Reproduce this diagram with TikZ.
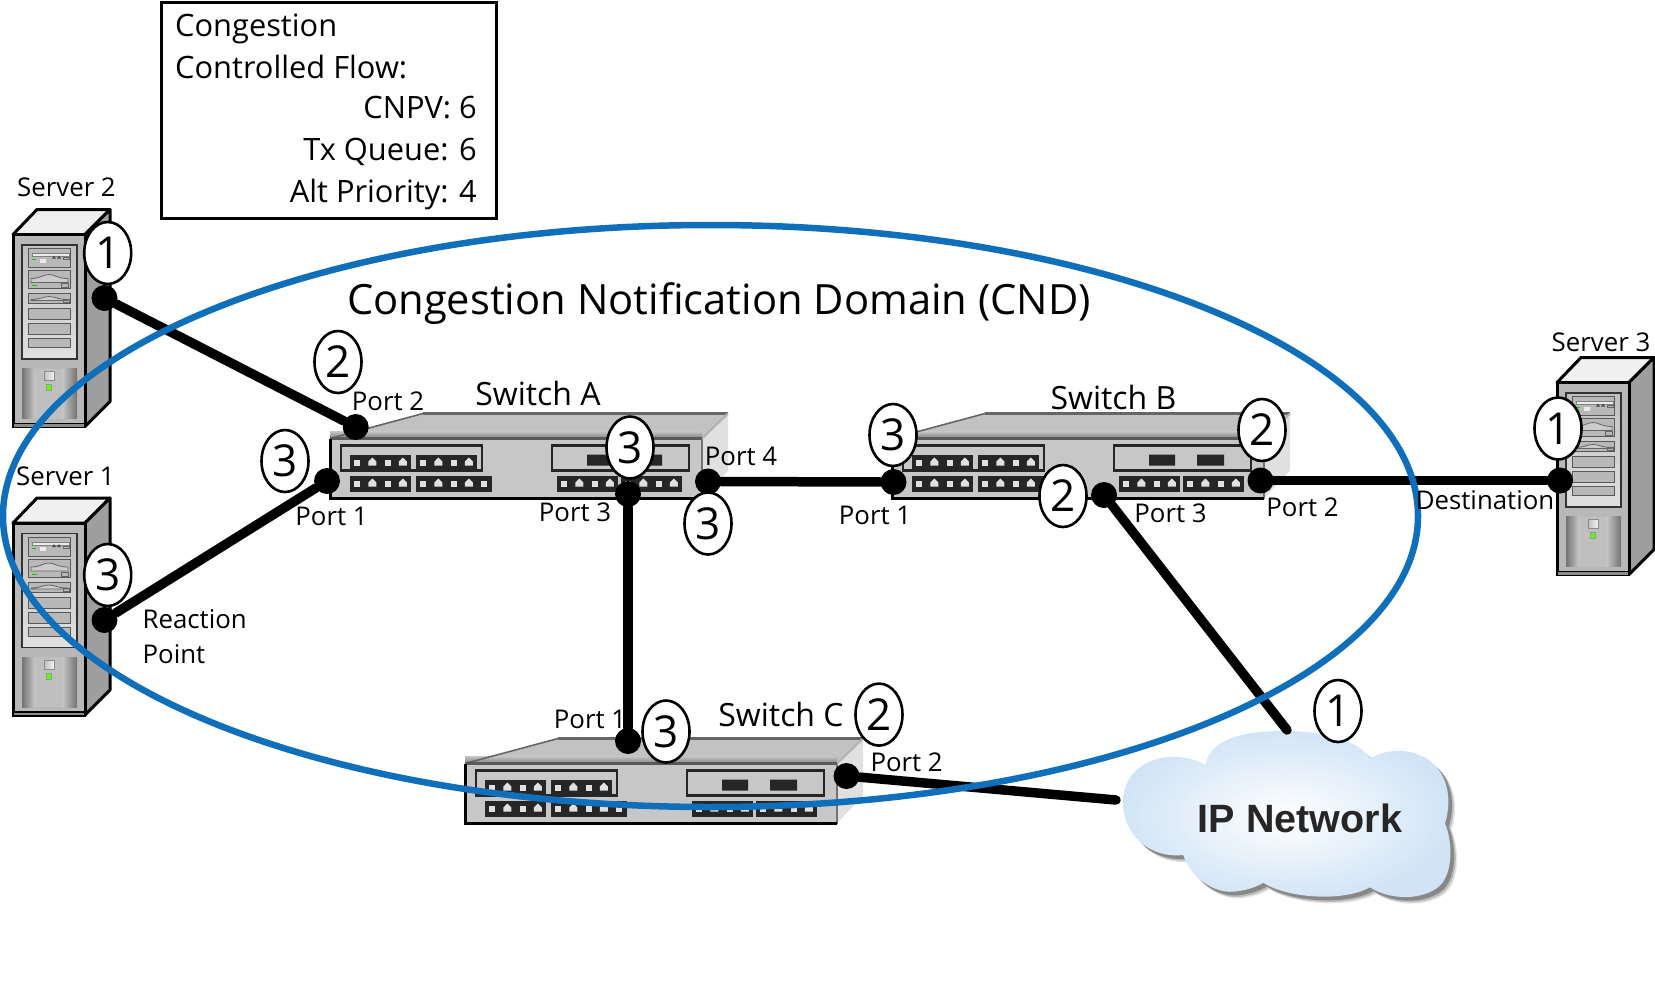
\documentclass[tikz,border=0pt]{standalone}
\usepackage{fontspec}
\setmainfont{Open Sans}
\newfontfamily\ipfont{Liberation Sans}
\usetikzlibrary{shapes.geometric}
\pgfdeclarelayer{equip}
\pgfsetlayers{equip,main}
\definecolor{cndblue}{HTML}{0F6FBA}
\definecolor{cloudedge}{HTML}{D0E4F6}
\newcommand{\cloudoutline}{(315,255) .. controls (270,225) and (170,215) .. (110,270) .. controls (50,325) and (60,420) .. (110,475) .. controls (150,520) and (210,530) .. (250,525) .. controls (270,590) and (340,640) .. (400,635) .. controls (440,632) and (470,620) .. (490,608) .. controls (550,650) and (720,670) .. (810,622) .. controls (860,655) and (950,665) .. (1010,625) .. controls (1060,590) and (1060,490) .. (1035,430) .. controls (1060,350) and (1040,260) .. (960,225) .. controls (910,205) and (850,210) .. (810,235) .. controls (770,170) and (620,145) .. (500,155) .. controls (400,160) and (330,190) .. (315,255) -- cycle}
\tikzset{
  dot/.style={circle,fill=black,inner sep=0,minimum size=26},
  link/.style={line width=9.5,line cap=round,black},
  badge/.style={ellipse,draw=black,line width=2.6,fill=white,inner sep=0,minimum width=47,minimum height=62,font=\fontsize{44}{44}\selectfont},
  portlabel/.style={anchor=base,inner sep=0,font=\fontsize{25.8}{30}\selectfont},
  namelabel/.style={anchor=base,inner sep=0,font=\fontsize{32}{38}\selectfont},
  boxtext/.style={anchor=base west,inner sep=0,font=\fontsize{30.8}{36}\selectfont},
  boxtextr/.style={anchor=base east,inner sep=0,font=\fontsize{30.8}{36}\selectfont},
  pics/serverbox/.style={code={
    \fill[black!6!white,draw=black,line width=3,line join=round] (0,0) -- (24,-25) -- (97,-25) -- (72,0) -- cycle;
    \fill[black!38!white,draw=black,line width=3,line join=round] (72,0) -- (97,-25) -- (97,167) -- (72,192) -- cycle;
    \fill[black!28!white,draw=black,line width=3,line join=round] (0,0) rectangle (72,192);
    \fill[black!45!white,draw=black,line width=1.6] (0,189) rectangle (72,193);
    \shade[top color=black!25!white,bottom color=black!12!white,draw=black!80,line width=1.3] (9,10.4) rectangle (64,124.4);
    \foreach \ya/\yb in {14.4/33.4,36.4/54.4,59/69.4,74/85,89.4/100.4,104.4/113.4}
      \fill[black!28!white,draw=black!65,line width=1] (15,\ya) rectangle (57,\yb);
    \fill[black!8,draw=black!50,line width=.7] (19,19) rectangle (56,22);
    \fill[green!80!black] (19,24.5) rectangle (23,25.5);
    \fill[black!8] (27,24) rectangle (33,28);
    \fill[black!70] (39,24) -- (41,21) -- (43,24) -- cycle;
    \fill[black!70] (44,24) -- (46,21) -- (48,24) -- cycle;
    \draw[black!60,line width=.7] (50,23) rectangle (56,25);
    \draw[black!60,line width=.8,fill=black!20] (18,44) .. controls (28,44) and (30,40) .. (36,40) .. controls (42,40) and (44,44) .. (55,44) -- (55,48) -- (18,48) -- cycle;
    \fill[green!80!black] (19,50.5) rectangle (24,51.5);
    \draw[black!60,line width=.7] (48,49) rectangle (55,53);
    \draw[black!60,line width=.8,fill=black!20] (18,65) .. controls (28,65) and (30,62) .. (36,62) .. controls (42,62) and (44,65) .. (55,65) -- (55,66) -- (18,66) -- cycle;
    \draw[black!60,line width=.7] (50,65) rectangle (56,68);
    \fill[black!25!white] (9,134) rectangle (64,184);
    \shade[left color=black!55!white,right color=black!22!white] (9,134) rectangle (22,184);
    \shade[left color=black!22!white,right color=black!55!white] (49,134) rectangle (64,184);
    \shade[left color=black!25!white,right color=black!5!white,draw=black!45,line width=.6] (31,137) rectangle (41,146);
    \fill[green!65!yellow,draw=black!40,line width=.5] (33.5,150) rectangle (38.5,156);
  }},
  pics/switchbox/.style={code={
    \fill[black!24!white] (0,0) -- (93,-25) -- (398,-25) -- (372,0) -- cycle;
    \shade[top color=black!24!white,bottom color=black!50!white] (0,-7) rectangle (372,0);
    \fill[black!12!white] (372,0) -- (398,-25) -- (398,32) -- (372,60) -- cycle;
    \draw[black!60,line width=1.6] (0,0) -- (93,-25);
    \draw[black!60,line width=2.6] (93,-25) -- (398,-25);
    \draw[black!30,line width=2] (372,0) -- (398,-25);
    \fill[black!22!white] (0,0) rectangle (372,60);
    \draw[black!65,line width=2.6] (0,0) -- (372,0);
    \draw[black!55,line width=1.5] (372,0) -- (372,60);
    \draw[black,line width=3] (0,0) -- (0,60) -- (372,60);
    \draw[black!85,line width=2.4] (11,7) rectangle (152,32);
    \draw[black!85,line width=2.4] (222,7) rectangle (359,32);
    \fill[black!85] (257,16) rectangle (283,27) (305,16) rectangle (332,27);
    \foreach \xa/\ya/\n in {20/16/4,86/16/4,20/37/4,86/37/5,227/37/4,291/37/4}{
      \fill[black!85] (\xa,\ya) rectangle ({\xa+\n*15.2},{\ya+16});
      \foreach \i in {1,...,\n}{
        \ifodd\i
          \fill[black!12] ({\xa+\i*15.2-11},{\ya+5}) rectangle ({\xa+\i*15.2-5},{\ya+11});
        \else
          \fill[black!12] ({\xa+\i*15.2-12},{\ya+11}) -- ({\xa+\i*15.2-12},{\ya+7}) -- ({\xa+\i*15.2-8},{\ya+3}) -- ({\xa+\i*15.2-4},{\ya+7}) -- ({\xa+\i*15.2-4},{\ya+11}) -- cycle;
        \fi
      }
    }
  }}
}
\begin{document}
\begin{tikzpicture}[x=1pt,y=-1pt]
\useasboundingbox (0,0) rectangle (1655,983);
\begin{pgfonlayer}{equip}
  \pic at (13,234.5) {serverbox};
  \pic at (13,523) {serverbox};
  \pic at (1557,382.5) {serverbox};
  \pic at (330,438.5) {switchbox};
  \pic at (892,438.5) {switchbox};
  \pic at (465,763.5) {switchbox};
  \begin{scope}[shift={(1100,680)},x=.33333pt,y=-.33333pt]
    \fill[black,opacity=.10] [shift={(20,20)}] \cloudoutline;
    \fill[black,opacity=.18] [shift={(16,16)}] \cloudoutline;
    \fill[black,opacity=.28] [shift={(11,11)}] \cloudoutline;
    \shade[inner color=white,outer color=cloudedge] \cloudoutline;
  \end{scope}
\end{pgfonlayer}

\draw[black,line width=3] (161,2) rectangle (496,218);

\node[dot] (s2p) at (104.5,298) {};
\node[dot] (s1p) at (104.5,620) {};
\node[dot] (ap2) at (355.7,427) {};
\node[dot] (ap1) at (327,481) {};
\node[dot] (ap3) at (628,494) {};
\node[dot] (ap4) at (708,481.5) {};
\node[dot] (bp1) at (893.5,482) {};
\node[dot] (bp3) at (1104,495) {};
\node[dot] (bp2) at (1260.5,480.5) {};
\node[dot] (s3p) at (1560,480.5) {};
\node[dot] (cp1) at (628,741) {};
\node[dot] (cp2) at (846.5,776) {};
\coordinate (ipa) at (1287,730);
\coordinate (ipb) at (1116,800);

\draw[link] (s2p) -- (ap2);
\draw[link] (s1p) -- (ap1);
\draw[link] (ap3) -- (cp1);
\draw[link] (ap4) -- (bp1);
\draw[link] (bp2) -- (s3p);
\draw[link] (bp3) -- (ipa);
\draw[link] (cp2) -- (ipb);

\draw[cndblue,line width=6.5] (710.5,516) ellipse [x radius=707.5,y radius=291];

\node[badge] (n1) at (107.7,253) {1};
\node[badge] (n2) at (107.7,575) {3};
\node[badge] (n3) at (338,362) {2};
\node[badge] (n4) at (285,461) {3};
\node[badge] (n5) at (630,447.5) {3};
\node[badge] (n6) at (708,523.5) {3};
\node[badge] (n7) at (893,435) {3};
\node[badge] (n8) at (1262,430) {2};
\node[badge] (n9) at (1063,496) {2};
\node[badge] (n10) at (1558,428.5) {1};
\node[badge] (n11) at (666,731.5) {3};
\node[badge] (n12) at (879,714.6) {2};
\node[badge] (n13) at (1338,711) {1};

\node[boxtext] (t1) at (175,36) {Congestion};
\node[boxtext] (t2) at (175,78) {Controlled Flow:};
\node[boxtextr] (t3) at (477,118.5) {CNPV: 6};
\node[boxtextr] (t4) at (477,160) {Tx Queue: 6};
\node[boxtextr] (t5) at (477,202) {Alt Priority: 4};

\node[anchor=base,inner sep=0,font=\fontsize{41.7}{48}\selectfont] (title) at (719,314) {Congestion Notification Domain (CND)};

\node[portlabel] (l1) at (66.5,196) {Server 2};
\node[portlabel] (l2) at (65.5,485) {Server 1};
\node[portlabel] (l3) at (1601,351) {Server 3};
\node[namelabel] (l4) at (538,405) {Switch A};
\node[namelabel] (l5) at (1113.5,409) {Switch B};
\node[namelabel] (l6) at (781,726) {Switch C};
\node[portlabel] (l7) at (388,410) {Port 2};
\node[portlabel] (l8) at (331.5,525) {Port 1};
\node[portlabel] (l9) at (575,521.7) {Port 3};
\node[portlabel] (l10) at (741,465) {Port 4};
\node[portlabel] (l11) at (875,524) {Port 1};
\node[portlabel] (l12) at (1170.5,522) {Port 3};
\node[portlabel] (l13) at (1302.5,516.5) {Port 2};
\node[portlabel] (l14) at (590,728.5) {Port 1};
\node[portlabel] (l15) at (906.6,771) {Port 2};
\node[portlabel] (l16) at (1485,509) {Destination};
\node[portlabel,anchor=base west] (l17) at (142.5,628) {Reaction};
\node[portlabel,anchor=base west] (l18) at (142.5,663) {Point};
\node[anchor=base,inner sep=0,text=black!85,font=\ipfont\bfseries\fontsize{39.5}{46}\selectfont] (ip) at (1300,832) {IP Network};
\end{tikzpicture}
\end{document}
